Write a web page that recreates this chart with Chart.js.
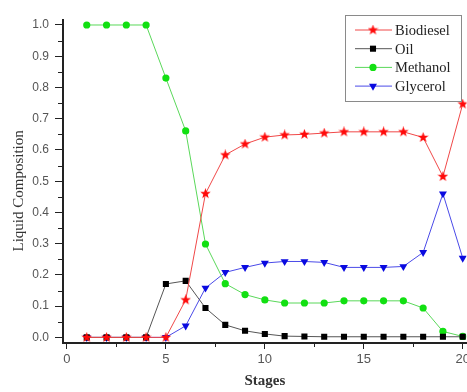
<!DOCTYPE html>
<html>
<head>
<meta charset="utf-8">
<script src="https://cdn.jsdelivr.net/npm/chart.js@4"></script>
<style>
  html, body { margin: 0; padding: 0; background: #fff; overflow: hidden; }
  #wrap { position: relative; width: 473px; height: 392px; }
</style>
</head>
<body>
<div id="wrap"><canvas id="chart"></canvas></div>
<script>
const stages = [1, 2, 3, 4, 5, 6, 7, 8, 9, 10, 11, 12, 13, 14, 15, 16, 17, 18, 19, 20];
const biodiesel = [0, 0, 0, 0, 0, 0.12, 0.46, 0.584, 0.619, 0.641, 0.648, 0.65, 0.654, 0.658, 0.658, 0.658, 0.658, 0.64, 0.515, 0.747];
const oil = [0, 0, 0, 0, 0.171, 0.181, 0.094, 0.04, 0.021, 0.011, 0.004, 0.003, 0.002, 0.002, 0.002, 0.002, 0.002, 0.002, 0.002, 0.002];
const methanol = [1, 1, 1, 1, 0.83, 0.661, 0.299, 0.172, 0.137, 0.12, 0.11, 0.11, 0.11, 0.117, 0.117, 0.117, 0.117, 0.094, 0.019, 0.003];
const glycerol = [0, 0, 0, 0, 0, 0.037, 0.158, 0.208, 0.224, 0.238, 0.243, 0.243, 0.24, 0.224, 0.224, 0.224, 0.227, 0.272, 0.46, 0.254];

const xTicks = [0, 5, 10, 15, 20];
const yTicks = [0, 0.1, 0.2, 0.3, 0.4, 0.5, 0.6, 0.7, 0.8, 0.9, 1.0];

// filled five point star for the biodiesel markers
function makeStar(color, size) {
    const c = document.createElement('canvas');
    c.width = size; c.height = size;
    const g = c.getContext('2d');
    const cx = size / 2, cy = size / 2, ro = size / 2, ri = ro * 0.42;
    g.beginPath();
    for (let i = 0; i < 10; i++) {
        const r = i % 2 ? ri : ro;
        const a = -Math.PI / 2 + i * Math.PI / 5;
        g.lineTo(cx + r * Math.cos(a), cy + r * Math.sin(a));
    }
    g.closePath();
    g.fillStyle = color;
    g.fill();
    return c;
}
const starMark = makeStar('#ff0a0a', 11);

function pts(ys) {
    return stages.map((s, i) => ({ x: s, y: ys[i] }));
}

const datasets = [
    { label: 'Biodiesel', data: pts(biodiesel), borderColor: '#f04848', backgroundColor: '#ff0a0a',
      pointStyle: starMark, pointRadius: 5 },
    { label: 'Oil', data: pts(oil), borderColor: '#555555', backgroundColor: '#000000',
      pointStyle: 'rect', pointRadius: 4.3 },
    { label: 'Methanol', data: pts(methanol), borderColor: '#5ad85a', backgroundColor: '#12e012',
      pointStyle: 'circle', pointRadius: 3.6 },
    { label: 'Glycerol', data: pts(glycerol), borderColor: '#4a4ae8', backgroundColor: '#0a0ae0',
      pointStyle: 'triangle', pointRotation: 180, pointRadius: 4.6 }
];
datasets.forEach(d => {
    d.borderWidth = 1;
    d.pointBorderWidth = 0;
    d.pointBorderColor = d.backgroundColor;
    d.tension = 0;
    d.showLine = true;
});

// minor ticks and the boxed legend
const extras = {
    id: 'extras',
    afterDraw(chart) {
        const ctx = chart.ctx;
        const xs = chart.scales.x, ys = chart.scales.y;
        const area = chart.chartArea;
        ctx.save();
        ctx.strokeStyle = '#222';
        ctx.lineWidth = 1;
        ctx.beginPath();
        for (let v = 0.05; v < 1; v += 0.1) {
            const py = Math.round(ys.getPixelForValue(v)) + 0.5;
            ctx.moveTo(area.left - 5, py);
            ctx.lineTo(area.left, py);
        }
        for (let v = 2.5; v < 20; v += 5) {
            const px = Math.round(xs.getPixelForValue(v)) + 0.5;
            ctx.moveTo(px, area.bottom);
            ctx.lineTo(px, area.bottom + 4);
        }
        ctx.stroke();

        // legend box
        ctx.fillStyle = '#fff';
        ctx.fillRect(345, 15, 116, 86);
        ctx.strokeStyle = '#8a8a8a';
        ctx.strokeRect(345.5, 15.5, 116, 86);
        ctx.font = '14.5px "Liberation Serif"';
        ctx.textBaseline = 'middle';
        ctx.textAlign = 'left';
        chart.data.datasets.forEach((d, i) => {
            const y = 30 + i * 18.7;
            ctx.strokeStyle = d.borderColor;
            ctx.lineWidth = 1;
            ctx.beginPath();
            ctx.moveTo(355, y);
            ctx.lineTo(392, y);
            ctx.stroke();
            ctx.fillStyle = d.backgroundColor;
            ctx.strokeStyle = d.backgroundColor;
            Chart.helpers.drawPoint(ctx, {
                pointStyle: d.pointStyle, rotation: d.pointRotation || 0,
                radius: d.pointRadius, borderWidth: 0
            }, 373, y);
            ctx.fillStyle = '#222';
            ctx.fillText(d.label, 395, y + 1);
        });
        ctx.restore();
    }
};

new Chart(document.getElementById('chart'), {
    type: 'scatter',
    data: { datasets: datasets },
    options: {
        responsive: true,
        maintainAspectRatio: false,
        animation: false,
        layout: { padding: { top: 20, right: 0, bottom: 0, left: 0 } },
        plugins: { legend: { display: false }, tooltip: { enabled: false } },
        scales: {
            x: {
                type: 'linear', min: -0.2, max: 20.2,
                afterBuildTicks: s => { s.ticks = xTicks.map(v => ({ value: v })); },
                afterFit: s => { s.height = 49; },
                grid: { drawOnChartArea: false, tickLength: 6, tickColor: '#222', tickWidth: 1 },
                border: { color: '#222', width: 2 },
                ticks: { font: { family: '"Liberation Sans"', size: 13 }, color: '#555', padding: 3,
                         maxRotation: 0, callback: v => String(v) },
                title: { display: true, text: 'Stages', color: '#333',
                         font: { family: '"Liberation Serif"', size: 15, weight: 'bold' },
                         padding: { top: 0, bottom: 2 } }
            },
            y: {
                min: -0.018, max: 1.016,
                afterBuildTicks: s => { s.ticks = yTicks.map(v => ({ value: v })); },
                afterFit: s => { s.width = 63; },
                grid: { drawOnChartArea: false, tickLength: 8, tickColor: '#222', tickWidth: 1 },
                border: { color: '#222', width: 2 },
                ticks: { font: { family: '"Liberation Sans"', size: 12 }, color: '#555', padding: 6,
                         callback: v => Number(v).toFixed(1) },
                // trailing spaces nudge the label down to where the original sits
                title: { display: true, text: 'Liquid Composition     ', color: '#333',
                         font: { family: '"Liberation Serif"', size: 15 },
                         padding: { top: 10, bottom: 0 } }
            }
        }
    },
    plugins: [extras]
});
</script>
</body>
</html>
